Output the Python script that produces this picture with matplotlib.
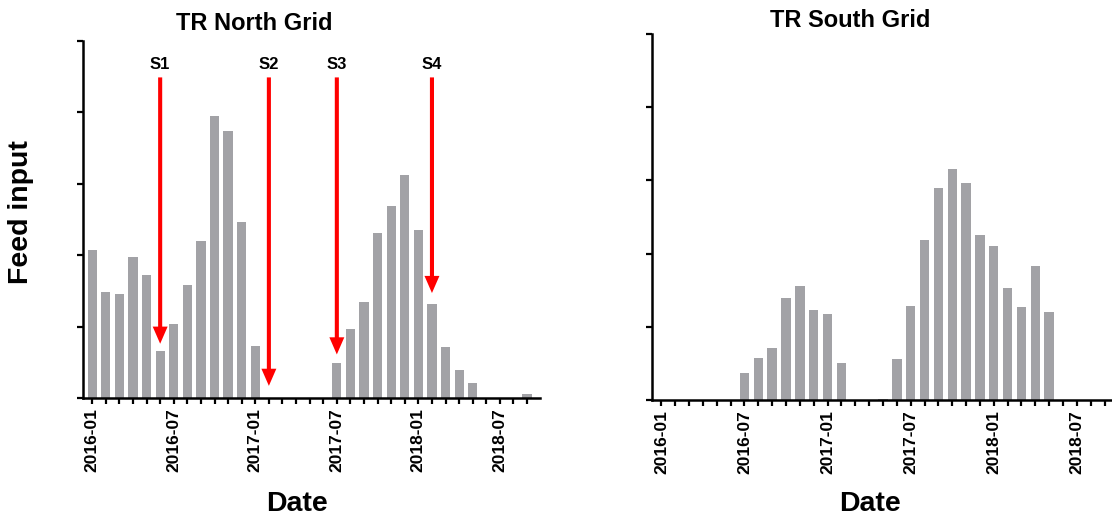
import matplotlib
matplotlib.use('Agg')
import matplotlib.pyplot as plt
import numpy as np

plt.rcParams['font.family'] = ['Liberation Sans', 'DejaVu Sans']
plt.rcParams['font.weight'] = 'bold'

# monthly feed input, 2016-01 .. 2018-09
months = ['2016-01', '2016-02', '2016-03', '2016-04', '2016-05', '2016-06',
          '2016-07', '2016-08', '2016-09', '2016-10', '2016-11', '2016-12',
          '2017-01', '2017-02', '2017-03', '2017-04', '2017-05', '2017-06',
          '2017-07', '2017-08', '2017-09', '2017-10', '2017-11', '2017-12',
          '2018-01', '2018-02', '2018-03', '2018-04', '2018-05', '2018-06',
          '2018-07', '2018-08', '2018-09']
north = [2.07, 1.49, 1.45, 1.97, 1.72, 0.66, 1.03, 1.58, 2.20, 3.95, 3.74, 2.46,
         0.73, 0, 0, 0, 0, 0, 0.49, 0.97, 1.35, 2.31, 2.69, 3.12,
         2.35, 1.32, 0.72, 0.39, 0.21, 0, 0, 0, 0.05]
south = [0, 0, 0, 0, 0, 0, 0.37, 0.57, 0.71, 1.40, 1.56, 1.23,
         1.17, 0.50, 0, 0, 0.02, 0.56, 1.28, 2.18, 2.90, 3.16, 2.96, 2.25,
         2.11, 1.53, 1.27, 1.83, 1.20, 0, 0, 0, 0]
# sampling events on the north grid: label, month, arrow tip
samples = ['S1', 'S2', 'S3', 'S4']
sample_months = ['2016-06', '2017-02', '2017-07', '2018-02']
sample_tips = [0.76, 0.17, 0.61, 1.47]
arrow_top = 4.49

tick_labels = [m if i % 6 == 0 else '' for i, m in enumerate(months)]
x = np.arange(len(months))
bar_color = '#a2a2a6'

fig = plt.figure(figsize=(11.12, 5.2), dpi=100)
W, H = 1112, 520
ax1 = fig.add_axes([82.7 / W, 1 - 398 / H, 457.3 / W, 357 / H])
ax2 = fig.add_axes([651.7 / W, 1 - 400 / H, 466 / W, 366 / H])


def style(ax):
    ax.set_xlim(-0.7, 32.95)
    ax.set_ylim(0, 5)
    ax.set_yticks(range(6))
    ax.set_yticklabels([])
    ax.set_xticks(x)
    ax.set_xticklabels(tick_labels, rotation=90, fontsize=12.5, fontweight='bold')
    for side in ['top', 'right']:
        ax.spines[side].set_visible(False)
    for side in ['left', 'bottom']:
        ax.spines[side].set_linewidth(1.8)
    ax.tick_params(width=1.6, length=4.5, pad=3)
    ax.set_xlabel('Date', fontsize=20.5, fontweight='bold')


style(ax1)
ax1.bar(x, north, width=0.68, color=bar_color)
ax1.set_title('TR North Grid', fontsize=17, fontweight='bold', x=(254 - 82.7) / 457.3, y=1.0, pad=8)
ax1.set_ylabel('Feed input', fontsize=20.5, fontweight='bold')
ax1.yaxis.set_label_coords(-(82.7 - 34) / 457.3, 0.52)
ax1.xaxis.set_label_coords((297 - 82.7) / 457.3, -(491 - 398) / 357)

for lab, m, tip in zip(samples, sample_months, sample_tips):
    xi = months.index(m)
    ax1.arrow(xi, arrow_top, 0, tip - arrow_top, width=0.3, head_width=1.1,
              head_length=0.24, length_includes_head=True, color='red', lw=0)
    ax1.text(xi, arrow_top + 0.08, lab, ha='center', va='bottom', fontsize=12, fontweight='bold')

style(ax2)
ax2.bar(x, south, width=0.68, color=bar_color)
ax2.set_title('TR South Grid', fontsize=17, fontweight='bold', x=(850 - 651.7) / 466, y=1.0, pad=5)
ax2.xaxis.set_label_coords((870 - 651.7) / 466, -(491 - 400) / 366)

fig.savefig('out.png', dpi=100)
